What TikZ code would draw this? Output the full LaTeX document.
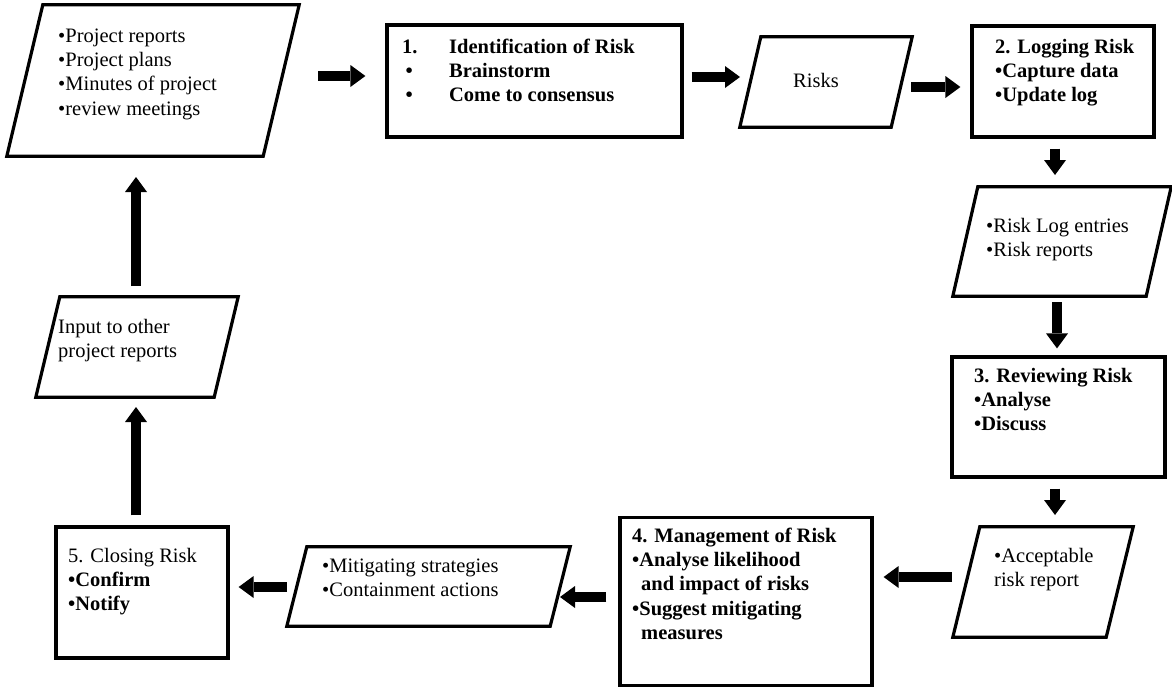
\documentclass[tikz,border=0pt]{standalone}
\usepackage{fontspec}
\setmainfont{Liberation Serif}
\usetikzlibrary{arrows.meta}
\newcommand{\flowfont}{\fontsize{20.5}{24.4}\selectfont}
\newcommand{\bt}{\textbullet}
\tikzset{stepbox/.style ={draw,rectangle,line width=3.2pt,inner sep=0pt}}
\tikzset{iobody/.style  ={rectangle,inner sep=0pt}}
\tikzset{ioline/.style  ={line width=3.2pt}}
\tikzset{txt/.style     ={anchor=base west,align=left,inner sep=0pt,font=\flowfont}}
\tikzset{btxt/.style    ={txt,font=\flowfont\bfseries}}
\tikzset{flow/.style    ={line width=9.5pt,-{Triangle[width=22pt,length=15pt,line width=0pt]}}}

\begin{document}
\begin{tikzpicture}[x=1pt,y=-1pt]
  \useasboundingbox[fill=white] (0,0) rectangle (1172,688);

  % boxes and data shapes
  \node [iobody,minimum width=292pt,minimum height=151pt]  (inrep)    at (153,80.5)   {};
  \node [stepbox,minimum width=295pt,minimum height=112pt] (idbox)    at (534.5,81)   {};
  \node [iobody,minimum width=172pt,minimum height=90pt]   (risks)    at (826,82)     {};
  \node [stepbox,minimum width=182pt,minimum height=111pt] (logbox)   at (1063,81.5)  {};
  \node [iobody,minimum width=218pt,minimum height=109pt]  (logout)   at (1062,241.5) {};
  \node [stepbox,minimum width=213pt,minimum height=120pt] (revbox)   at (1058.5,417) {};
  \node [iobody,minimum width=180pt,minimum height=110pt]  (accrep)   at (1043,582)   {};
  \node [stepbox,minimum width=252pt,minimum height=168pt] (mgmtbox)  at (746,601.5)  {};
  \node [iobody,minimum width=283pt,minimum height=79pt]   (mitig)    at (428.5,586.5){};
  \node [stepbox,minimum width=172pt,minimum height=131pt] (closebox) at (142,592.5)  {};
  \node [iobody,minimum width=202pt,minimum height=100pt]  (otherrep) at (137,347)    {};

  % slanted outlines of the data shapes
  \foreach \n/\e in {inrep/36,risks/21,logout/25,accrep/27,mitig/20,otherrep/24}
    \draw [ioline] ([xshift=\e pt]\n.north west) -- (\n.north east)
      -- ([xshift=-\e pt]\n.south east) -- (\n.south west) -- cycle;

  % texts
  \node [txt] (inrep-t) at (58,115.2)
    {\bt Project reports\\\bt Project plans\\\bt Minutes of project\\\bt review meetings};
  \node [btxt] (idbox-t) at (402,101.8)
    {\makebox[47pt][l]{1.}Identification of Risk\\
     \makebox[47pt][l]{\,\bt}Brainstorm\\
     \makebox[47pt][l]{\,\bt}Come to consensus};
  \node [txt] (risks-t) at (793,87) {Risks};
  \node [btxt] (logbox-t) at (995,101.8) {2. Logging Risk\\\bt Capture data\\\bt Update log};
  \node [txt] (logout-t) at (986,256.4) {\bt Risk Log entries\\\bt Risk reports};
  \node [btxt] (revbox-t) at (974,430.8) {3. Reviewing Risk\\\bt Analyse\\\bt Discuss};
  \node [txt] (accrep-t) at (994,586.4) {\bt Acceptable\\risk report};
  \node [btxt] (mgmtbox-t) at (632,639.6)
    {4. Management of Risk\\\bt Analyse likelihood\\\hspace*{9pt}and impact of risks\\
     \bt Suggest mitigating\\\hspace*{9pt}measures};
  \node [txt] (mitig-t) at (322,596.4) {\bt Mitigating strategies\\\bt Containment actions};
  \node [txt] (closebox-t) at (68,610.8) {5. Closing Risk\\\textbf{\bt Confirm}\\\textbf{\bt Notify}};
  \node [txt] (otherrep-t) at (58,357.4) {Input to other\\project reports};

  % arrows
  \draw [flow,shorten <=165pt,shorten >=20pt] ([yshift=5pt]idbox.west -| inrep.center) -- ([yshift=5pt]idbox.west);
  \draw [flow,shorten <=8pt,shorten >=86pt] ([yshift=4pt]idbox.east) -- ([yshift=4pt]idbox.east -| risks.center);
  \draw [flow,shorten <=85pt,shorten >=10pt] ([yshift=-5.5pt]logbox.west -| risks.center) -- ([yshift=-5.5pt]logbox.west);
  \draw [flow,shorten <=10pt,shorten >=66.5pt] ([xshift=-8pt]logbox.south) -- ([xshift=-8pt]logbox.south |- logout.center);
  \draw [flow,shorten <=60.5pt,shorten >=7pt] ([xshift=-1.5pt]revbox.north |- logout.center) -- ([xshift=-1.5pt]revbox.north);
  \draw [flow,shorten <=10pt,shorten >=67pt] ([xshift=-3.5pt]revbox.south) -- ([xshift=-3.5pt]revbox.south |- accrep.center);
  \draw [flow,shorten <=91pt,shorten >=10pt] ([yshift=24.5pt]mgmtbox.east -| accrep.center) -- ([yshift=24.5pt]mgmtbox.east);
  \draw [flow,shorten <=12pt,shorten >=131.5pt] ([yshift=4.5pt]mgmtbox.west) -- ([yshift=4.5pt]mgmtbox.west -| mitig.center);
  \draw [flow,shorten <=141.5pt,shorten >=9pt] ([yshift=5.5pt]closebox.east -| mitig.center) -- ([yshift=5.5pt]closebox.east);
  \draw [flow,shorten <=10pt,shorten >=60pt] ([xshift=-6pt]closebox.north) -- ([xshift=-6pt]closebox.north |- otherrep.center);
  \draw [flow,shorten <=61pt,shorten >=96.5pt] ([xshift=-6pt]closebox.north |- otherrep.center) -- ([xshift=-6pt]closebox.north |- inrep.center);
\end{tikzpicture}
\end{document}
